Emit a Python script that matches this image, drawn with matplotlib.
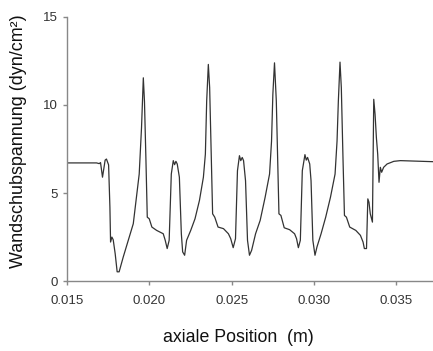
import matplotlib
matplotlib.use("Agg")
import matplotlib.pyplot as plt

plt.rcParams['font.family'] = ['Liberation Sans', 'DejaVu Sans']

# Wall shear stress along the axial position
position = [0.01500, 0.01679, 0.01695, 0.01703, 0.01715, 0.01731, 0.01739, 0.01752,
            0.01760, 0.01764, 0.01772, 0.01780, 0.01792, 0.01804, 0.01816, 0.01841,
            0.01871, 0.01902, 0.01926, 0.01938, 0.01952, 0.01963, 0.01970, 0.01979,
            0.01987, 0.01999, 0.02015, 0.02044, 0.02084, 0.02096, 0.02108, 0.02120,
            0.02133, 0.02145, 0.02153, 0.02161, 0.02169, 0.02182, 0.02194, 0.02202,
            0.02214, 0.02226, 0.02251, 0.02277, 0.02304, 0.02328, 0.02340, 0.02348,
            0.02358, 0.02366, 0.02376, 0.02384, 0.02397, 0.02417, 0.02450, 0.02480,
            0.02494, 0.02509, 0.02523, 0.02535, 0.02547, 0.02555, 0.02564, 0.02572,
            0.02584, 0.02596, 0.02608, 0.02621, 0.02645, 0.02673, 0.02703, 0.02730,
            0.02742, 0.02750, 0.02760, 0.02771, 0.02779, 0.02787, 0.02799, 0.02819,
            0.02852, 0.02882, 0.02894, 0.02905, 0.02917, 0.02929, 0.02945, 0.02953,
            0.02961, 0.02974, 0.02982, 0.02993, 0.03006, 0.03018, 0.03043, 0.03071,
            0.03100, 0.03128, 0.03140, 0.03148, 0.03158, 0.03166, 0.03176, 0.03185,
            0.03197, 0.03217, 0.03254, 0.03282, 0.03298, 0.03306, 0.03319, 0.03327,
            0.03334, 0.03342, 0.03355, 0.03363, 0.03371, 0.03379, 0.03387, 0.03395,
            0.03403, 0.03411, 0.03423, 0.03444, 0.03485, 0.03525, 0.03723]
shear = [6.71, 6.71, 6.67, 6.73, 5.90, 6.87, 6.93, 6.60,
         4.20, 2.22, 2.50, 2.35, 1.56, 0.53, 0.53, 1.37,
         2.30, 3.26, 5.14, 6.08, 8.70, 11.54, 10.20, 6.84,
         3.63, 3.54, 3.07, 2.88, 2.69, 2.32, 1.85, 2.32,
         6.08, 6.84, 6.61, 6.80, 6.65, 5.90, 2.69, 1.66,
         1.47, 2.32, 2.88, 3.54, 4.58, 5.90, 7.21, 10.23,
         12.30, 10.98, 7.02, 3.82, 3.63, 3.07, 2.98, 2.69,
         2.41, 1.90, 2.41, 6.27, 7.12, 6.84, 7.02, 6.84,
         5.70, 2.32, 1.47, 1.75, 2.69, 3.45, 4.76, 6.08,
         7.95, 10.60, 12.39, 10.23, 7.02, 3.82, 3.73, 3.03,
         2.92, 2.69, 2.41, 1.90, 2.32, 6.27, 7.18, 6.87,
         7.02, 6.65, 5.70, 2.32, 1.47, 1.94, 2.69, 3.63,
         4.76, 6.08, 7.95, 10.23, 12.43, 10.98, 7.02, 3.73,
         3.63, 3.07, 2.88, 2.60, 2.22, 1.85, 1.85, 4.67,
         4.48, 3.82, 3.35, 10.32, 9.47, 8.15, 7.21, 5.61,
         6.46, 6.18, 6.46, 6.65, 6.80, 6.84, 6.78]

x_ticks = [0.015, 0.020, 0.025, 0.030, 0.035]
y_ticks = [0, 5, 10, 15]

fig = plt.figure(figsize=(4.33, 3.51), dpi=100)
ax = fig.add_axes([0.155, 0.199, 0.845, 0.753])

ax.plot(position, shear, color='#333333', linewidth=0.9)

ax.set_xlim(0.015, 0.03723)
ax.set_ylim(0, 15)
ax.set_xticks(x_ticks)
ax.set_xticklabels(['%.3f' % t for t in x_ticks])
ax.set_yticks(y_ticks)

for side in ['top', 'right']:
    ax.spines[side].set_visible(False)
for side in ['left', 'bottom']:
    ax.spines[side].set_color('#888888')
    ax.spines[side].set_linewidth(1.0)
ax.tick_params(direction='out', length=3, width=1, color='#888888',
               labelsize=9.5, labelcolor='#333333')
ax.tick_params(axis='x', pad=7)

ax.set_xlabel('axiale Position  (m)', fontsize=12.8, color='#111111')
ax.xaxis.set_label_coords(0.467, -0.182)
ax.set_ylabel('Wandschubspannung (dyn/cm²)', fontsize=12.9, color='#111111')
ax.yaxis.set_label_coords(-0.11, 0.528)

fig.savefig('out.png', dpi=100)
